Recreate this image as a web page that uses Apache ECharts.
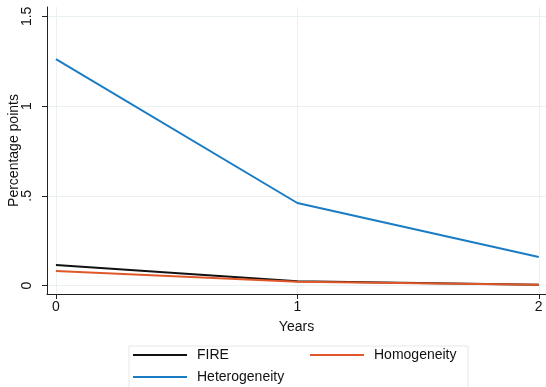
<!DOCTYPE html>
<html>
<head>
<meta charset="utf-8">
<script src="https://cdn.jsdelivr.net/npm/echarts@6/dist/echarts.min.js"></script>
<style>html,body{margin:0;padding:0;background:#fff}#c{width:546px;height:387px}</style>
</head>
<body>
<div id="c"></div>
<script>
const years = [0, 1, 2];
const fire = [0.114, 0.024, 0.004];
const homogeneity = [0.081, 0.021, 0.004];
const heterogeneity = [1.262, 0.46, 0.159];
const xTicks = [0, 1, 2];
const yTicks = [0, 0.5, 1, 1.5];
const yTickLabels = ['0', '.5', '1', '1.5'];

const font = 'Liberation Sans, Arial, sans-serif';
const gridColor = '#e9f1f3';
const chart = echarts.init(document.getElementById('c'), null, {renderer: 'canvas'});

function pairs(vals) { return years.map((x, i) => [x, vals[i]]); }

chart.setOption({
  animation: false,
  backgroundColor: '#fff',
  grid: {left: 47, right: 0, top: 7, bottom: 93, containLabel: false, outerBoundsMode: 'none'},
  xAxis: {
    type: 'value', min: -0.037, max: 2.03,
    name: 'Years', nameLocation: 'middle', nameGap: 26, nameMoveOverlap: false,
    nameTextStyle: {fontFamily: font, fontSize: 14, color: '#111'},
    axisLine: {show: true, onZero: false, lineStyle: {color: '#222', width: 1}},
    axisTick: {show: true, length: 5, lineStyle: {color: '#222'}, customValues: xTicks},
    axisLabel: {customValues: xTicks, fontFamily: font, fontSize: 14, color: '#111', margin: 6,
      formatter: v => String(v)},
    splitLine: {show: true, lineStyle: {color: gridColor, width: 1}, customValues: xTicks}
  },
  yAxis: {
    type: 'value', min: -0.047, max: 1.552,
    name: 'Percentage points', nameLocation: 'middle', nameGap: 26, nameRotate: 90, nameMoveOverlap: false,
    nameTextStyle: {fontFamily: font, fontSize: 14, color: '#111'},
    axisLine: {show: true, onZero: false, lineStyle: {color: '#222', width: 1}},
    axisTick: {show: true, length: 5, lineStyle: {color: '#222'}, customValues: yTicks},
    axisLabel: {customValues: yTicks, rotate: 90, fontFamily: font, fontSize: 14, color: '#111', margin: 13,
      formatter: v => yTickLabels[yTicks.indexOf(Math.round(v * 10) / 10)] ?? ''},
    splitLine: {show: true, lineStyle: {color: gridColor, width: 1}, customValues: yTicks}
  },
  legend: {
    left: 129, top: 346, orient: 'horizontal', width: 340,
    itemWidth: 54, itemHeight: 2, itemGap: 6, icon: 'rect',
    padding: [1, 8, 4, 4],
    borderColor: '#e3e8ea', borderWidth: 1, backgroundColor: '#fff',
    textStyle: {fontFamily: font, fontSize: 14, color: '#111', lineHeight: 16, padding: [0, 0, 0, 5]},
    data: [
      {name: 'FIRE', textStyle: {width: 107}},
      {name: 'Homogeneity', textStyle: {width: 86}},
      {name: 'Heterogeneity', textStyle: {width: 107}}
    ]
  },
  series: [
    {name: 'FIRE', type: 'line', data: pairs(fire), showSymbol: false, symbol: 'none',
      lineStyle: {color: '#111111', width: 2}, itemStyle: {color: '#111111'}},
    {name: 'Homogeneity', type: 'line', data: pairs(homogeneity), showSymbol: false, symbol: 'none',
      lineStyle: {color: '#e0582a', width: 2}, itemStyle: {color: '#e0582a'}},
    {name: 'Heterogeneity', type: 'line', data: pairs(heterogeneity), showSymbol: false, symbol: 'none',
      lineStyle: {color: '#1a7cc4', width: 2}, itemStyle: {color: '#1a7cc4'}}
  ]
});
</script>
</body>
</html>
